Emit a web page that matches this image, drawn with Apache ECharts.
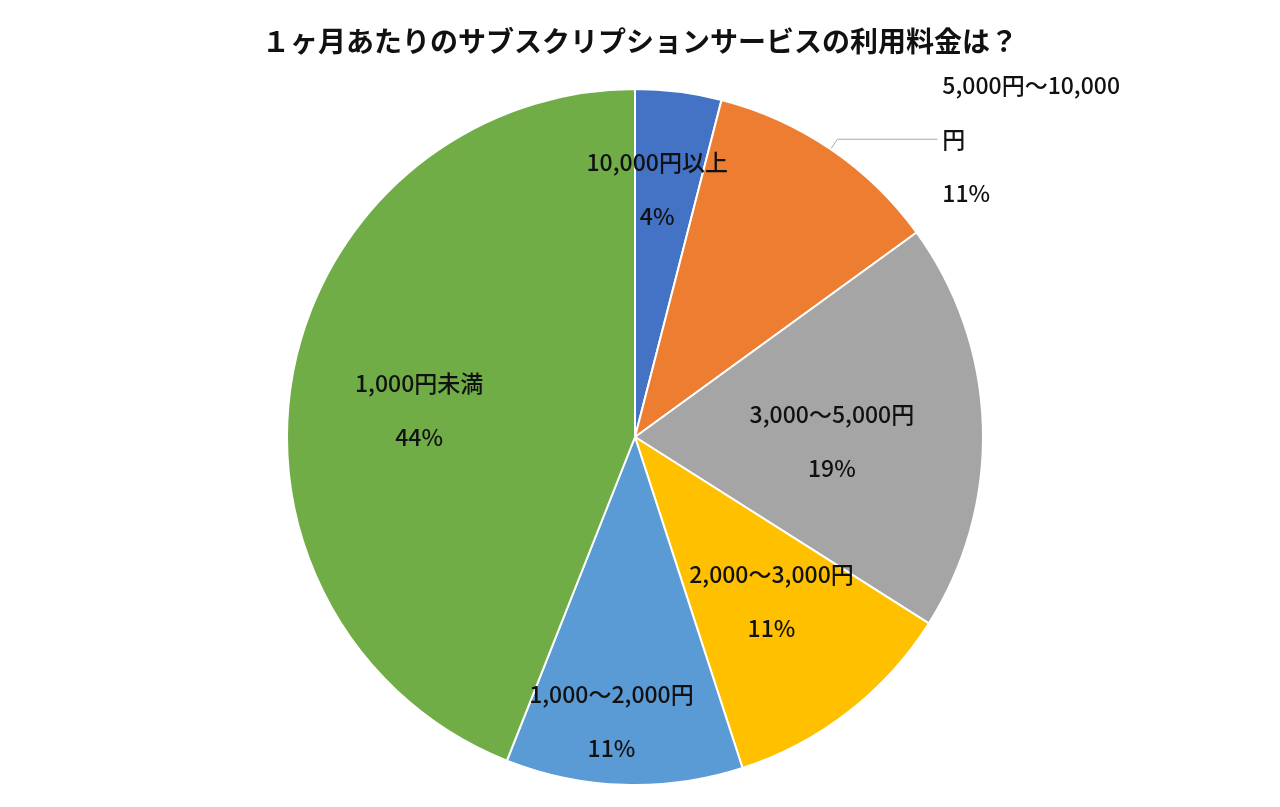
<!DOCTYPE html>
<html><head><meta charset="utf-8">
<script src="https://cdn.jsdelivr.net/npm/echarts@6/dist/echarts.min.js"></script>
<style>html,body{margin:0;background:#fff}#c{width:1280px;height:807px}</style>
</head><body><div id="c"></div>
<script>
const categories = ['10,000円以上','5,000円～10,000円','3,000～5,000円','2,000～3,000円','1,000～2,000円','1,000円未満'];
const labelTexts = ['10,000円以上','5,000円～10,000\n円','3,000～5,000円','2,000～3,000円','1,000～2,000円','1,000円未満'];
const values = [4, 11, 19, 11, 11, 44];
const colors = ['#4472C4','#ED7D31','#A5A5A5','#FFC000','#5B9BD5','#70AD47'];
const offsets = [[0,-72],null,[20,10],[28,24],[-18,107],[-42,6]];
const data = values.map((v,i)=>{
  const d = {name: categories[i], value: v, itemStyle:{color:colors[i]}};
  if (offsets[i]) {
    d.label = {position:'inside', offset: offsets[i]};
    d.labelLine = {show:false};
  } else {
    d.label = {position:'outside'};
    d.labelLine = {show:true, length:12, length2:100, lineStyle:{color:'#aaa', width:1}};
  }
  return d;
});
const chart = echarts.init(document.getElementById('c'));
chart.setOption({
  title:{text:'１ヶ月あたりのサブスクリプションサービスの利用料金は？', left:'center', top:22,
    textStyle:{fontFamily:'Noto Sans CJK JP', fontWeight:'bold', fontSize:28, color:'#111'}},
  series:[{
    type:'pie', center:[635,437], radius:348, startAngle:90, clockwise:true,
    itemStyle:{borderColor:'#fff', borderWidth:2},
    label:{show:true, color:'#111', fontFamily:'Noto Sans CJK JP', fontSize:23, fontWeight:500,
      lineHeight:54, align:'center',
      formatter:p=>labelTexts[p.dataIndex]+'\n'+p.value+'%'},
    data:data, animation:false
  }]
});
</script></body></html>
